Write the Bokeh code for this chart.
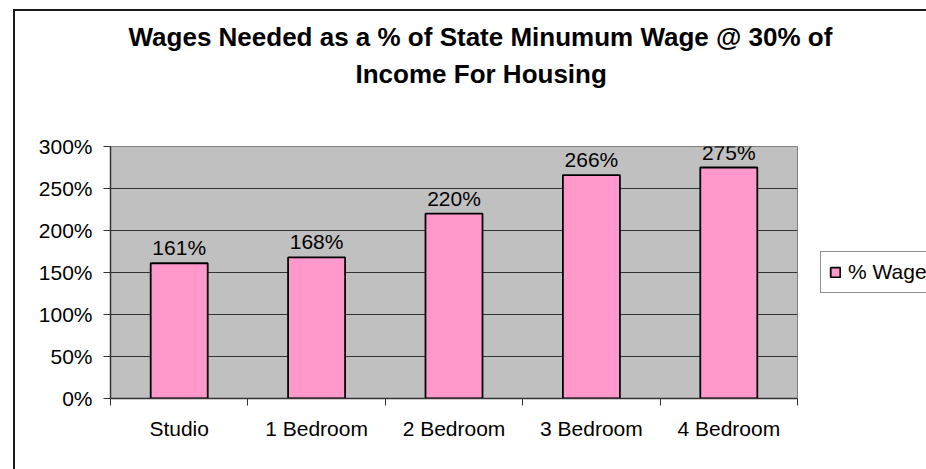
from bokeh.plotting import figure
from bokeh.models import (ColumnDataSource, FixedTicker, NumeralTickFormatter,
                          LabelSet, Legend, LegendItem, Title, Range1d)
from bokeh.core.properties import value
from bokeh.embed import file_html
from bokeh.resources import INLINE

categories = ["Studio", "1 Bedroom", "2 Bedroom", "3 Bedroom", "4 Bedroom"]
values = [1.61, 1.68, 2.20, 2.66, 2.75]
series_name = "% Wage"
title_line1 = "Wages Needed as a % of State Minumum Wage @ 30% of"
title_line2 = "Income For Housing"
y_ticks = [0, 0.5, 1.0, 1.5, 2.0, 2.5, 3.0]

FONT = "Liberation Sans"

xpos = [i + 0.5 for i in range(len(categories))]
labels = [f"{round(v * 100)}%" for v in values]
src = ColumnDataSource(dict(x=xpos, top=values, label=labels, cat=categories))

p = figure(output_backend="svg", toolbar_location=None,
           frame_width=687, frame_height=252,
           min_border_left=95, min_border_top=135,
           min_border_right=129, min_border_bottom=71,
           x_range=Range1d(0, len(categories)), y_range=Range1d(0, 3.0),
           background_fill_color="#C0C0C0", border_fill_color="white",
           tools="", title=None)
p.styles = {"margin-left": "13px", "margin-top": "9px",
            "border-left": "2px solid #1a1a1a", "border-top": "2px solid #1a1a1a"}

# two title lines, each centred on the chart area; the trailing blank lines of
# the second one keep the gap above the plot area
p.add_layout(Title(text=title_line2 + "\n\n", align="left", offset=245,
                   text_font=FONT, text_font_size="26px", text_font_style="bold",
                   text_color="black", text_line_height=0.91, standoff=5), "above")
p.add_layout(Title(text=title_line1, align="left", offset=18,
                   text_font=FONT, text_font_size="26px", text_font_style="bold",
                   text_color="black", standoff=5), "above")

p.outline_line_color = "#808080"
p.outline_line_width = 1

bars = p.vbar(x="x", top="top", width=0.415, bottom=0, source=src,
              fill_color="#FF99CC", line_color="black", line_width=1.8)

p.add_layout(LabelSet(x="x", y="top", text="label", source=src,
                      text_align="center", text_baseline="alphabetic",
                      y_offset=8, text_font=value(FONT), text_font_size="21px",
                      text_color="black"))

# y axis
p.yaxis.ticker = FixedTicker(ticks=y_ticks)
p.yaxis.formatter = NumeralTickFormatter(format="0%")
p.yaxis.major_tick_out = 7
p.yaxis.major_tick_in = 0
p.yaxis.minor_tick_out = 0
p.yaxis.minor_tick_in = 0
p.yaxis.major_label_standoff = 11
p.yaxis.major_label_text_font = FONT
p.yaxis.major_label_text_font_size = "21px"
p.yaxis.major_label_text_color = "black"
p.yaxis.axis_line_color = "#333333"
p.yaxis.axis_line_width = 1.5
p.yaxis.major_tick_line_color = "#333333"

# x axis: labels at category centres, ticks at category boundaries
p.xaxis.ticker = FixedTicker(ticks=xpos, minor_ticks=list(range(len(categories) + 1)))
p.xaxis.major_label_overrides = {x: c for x, c in zip(xpos, categories)}
p.xaxis.major_tick_out = 0
p.xaxis.major_tick_in = 0
p.xaxis.minor_tick_out = 7
p.xaxis.minor_tick_in = 0
p.xaxis.major_label_standoff = 11
p.xaxis.major_label_text_font = FONT
p.xaxis.major_label_text_font_size = "21px"
p.xaxis.major_label_text_color = "black"
p.xaxis.axis_line_color = "#333333"
p.xaxis.axis_line_width = 1.5
p.xaxis.minor_tick_line_color = "#333333"

p.xgrid.grid_line_color = None
p.ygrid.ticker = FixedTicker(ticks=y_ticks)
p.ygrid.grid_line_color = "#333333"
p.ygrid.grid_line_width = 1

legend = Legend(items=[LegendItem(label=series_name, renderers=[bars])],
                location=(23, 105), orientation="vertical",
                label_text_font=FONT, label_text_font_size="21px",
                label_text_color="black", glyph_width=12, glyph_height=12,
                label_standoff=7, padding=8, margin=0, spacing=0,
                border_line_color="#222222", border_line_width=1,
                background_fill_color="white", background_fill_alpha=1)
p.add_layout(legend, "right")

open("out.html", "w").write(file_html(p, INLINE))
